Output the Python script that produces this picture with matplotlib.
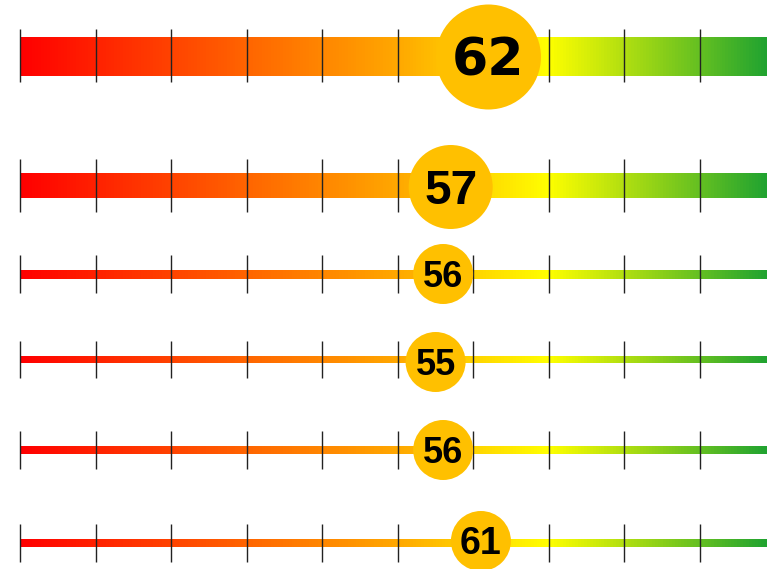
import numpy as np
import matplotlib
matplotlib.use("Agg")
import matplotlib.pyplot as plt
from matplotlib.colors import LinearSegmentedColormap

# ---- data ----
values = [62, 57, 56, 55, 56, 61]
tick_values = list(range(0, 101, 10))
scale_min, scale_max = 0, 100

# ---- layout (pixels, figure coordinates from the top) ----
bar_center = [56.5, 185.5, 274.5, 359.5, 450, 543]
bar_height = [39, 25, 9, 7, 8, 8]
tick_span = [(29, 82), (159, 212), (255, 293), (341, 378), (431, 469), (524, 562)]
circle_diam_px = [105, 84, 60, 60, 60, 60]
circle_cy = [57, 187, 274, 362, 450, 541]
font_pt = [37.5, 34.5, 26, 26, 26, 27]
font_fam = ["DejaVu Sans", "Liberation Sans", "Liberation Sans",
            "Liberation Sans", "Liberation Sans", "Liberation Sans"]
cap_ratio = {"DejaVu Sans": 0.729, "Liberation Sans": 0.716}

W, H, DPI = 767, 569, 100
px_per_unit = 75.56 / 10.0
x0_px = 20

fig = plt.figure(figsize=(W / DPI, H / DPI), dpi=DPI)
ax = fig.add_axes([0, 0, 1, 1])
ax.axis("off")

cmap = LinearSegmentedColormap.from_list(
    "gauge",
    [(0.0, "#FF0000"), (0.5, "#FFA800"), (0.7, "#FFFF00"), (1.0, "#18A032")],
)
grad = np.linspace(0, 1, 256).reshape(1, -1)

for i, v in enumerate(values):
    yc, h = bar_center[i], bar_height[i]
    ax.imshow(grad, cmap=cmap, aspect="auto", interpolation="nearest",
              extent=(scale_min, scale_max, yc + h / 2, yc - h / 2), zorder=1)
    t0, t1 = tick_span[i]
    ax.vlines(tick_values, t0, t1, colors="#222222", linewidth=1.0, zorder=2)
    d_pt = circle_diam_px[i] * 72 / DPI
    ax.scatter([v], [circle_cy[i]], s=d_pt ** 2, color="#FFC000",
               edgecolors="none", zorder=3)
    cap_px = cap_ratio[font_fam[i]] * font_pt[i] * DPI / 72
    ax.text(v, circle_cy[i] + cap_px / 2, str(v), ha="center", va="baseline",
            fontsize=font_pt[i], fontweight="bold",
            family=[font_fam[i], "DejaVu Sans"], color="black", zorder=4)

ax.set_xlim(-x0_px / px_per_unit, (W - x0_px) / px_per_unit)
ax.set_ylim(H, 0)
fig.savefig("out.png", dpi=DPI)
